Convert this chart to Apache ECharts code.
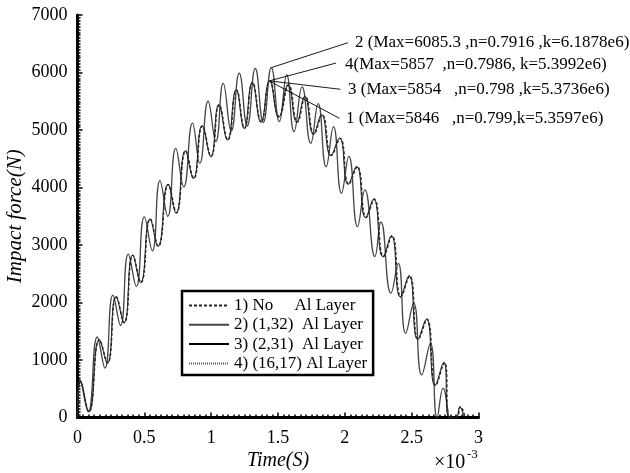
<!DOCTYPE html>
<html>
<head>
<meta charset="utf-8">
<script src="https://cdn.jsdelivr.net/npm/echarts@6/dist/echarts.min.js"></script>
<style>
html, body { margin: 0; padding: 0; background: #fff; }
#myChart { width: 630px; height: 473px; }
</style>
</head>
<body>
<div id="myChart"></div>
<script>
// legend names (spaces line up the "Al Layer" column like the original)
var seriesNames = ['1) No     Al Layer', '2) (1,32)  Al Layer', '3) (2,31)  Al Layer', '4) (16,17) Al Layer'];

// [time (x10^-3 s), force (N)] at the peaks and troughs
var curve1 = [[0,0],[0.022,630],[0.085,100],[0.165,1350],[0.225,950],[0.29,2100],[0.35,1650],[0.415,2820],[0.475,2350],[0.545,3450],[0.605,2980],[0.68,4050],[0.74,3560],[0.81,4635],[0.87,4160],[0.935,5070],[1.0,4540],[1.06,5435],[1.125,4830],[1.19,5696],[1.25,5030],[1.31,5823],[1.375,5140],[1.44,5846],[1.51,5230],[1.58,5783],[1.645,5140],[1.705,5580],[1.77,4930],[1.83,5261],[1.9,4560],[1.965,4855],[2.03,4060],[2.093,4362],[2.16,3480],[2.22,3795],[2.29,2800],[2.353,3157],[2.42,2100],[2.485,2461],[2.55,1360],[2.615,1708],[2.68,560],[2.745,953],[2.785,0],[2.835,0],[2.865,188],[2.9,0]];
var curve2 = [[0,0],[0.02,640],[0.08,100],[0.148,1400],[0.205,860],[0.265,2130],[0.322,1600],[0.38,2840],[0.44,2280],[0.5,3490],[0.56,2900],[0.617,4120],[0.675,3500],[0.735,4680],[0.795,4010],[0.86,5120],[0.915,4420],[0.977,5500],[1.035,4800],[1.09,5810],[1.15,4980],[1.21,5990],[1.27,5070],[1.33,6070],[1.39,5130],[1.45,6085],[1.51,5145],[1.565,5960],[1.62,4970],[1.68,5750],[1.745,4770],[1.8,5460],[1.86,4360],[1.915,5060],[1.975,3900],[2.03,4540],[2.095,3320],[2.15,3960],[2.225,2800],[2.27,3400],[2.345,2160],[2.4,2680],[2.455,1464],[2.515,1990],[2.575,740],[2.64,1290],[2.69,0],[2.735,510],[2.775,0]];
var curve3 = [[0,0],[0.022,635],[0.085,100],[0.163,1355],[0.223,945],[0.288,2105],[0.348,1645],[0.412,2825],[0.472,2345],[0.542,3455],[0.602,2975],[0.677,4055],[0.737,3555],[0.807,4640],[0.867,4155],[0.932,5075],[0.997,4535],[1.057,5440],[1.122,4825],[1.187,5700],[1.247,5025],[1.307,5828],[1.372,5135],[1.437,5854],[1.505,5225],[1.575,5788],[1.64,5135],[1.7,5585],[1.765,4925],[1.825,5266],[1.895,4555],[1.96,4860],[2.025,4055],[2.088,4367],[2.155,3475],[2.215,3800],[2.285,2795],[2.348,3162],[2.415,2095],[2.48,2466],[2.545,1355],[2.61,1713],[2.675,555],[2.74,958],[2.78,0],[2.83,0],[2.86,185],[2.89,0]];
var curve4 = [[0,0],[0.022,638],[0.085,100],[0.164,1352],[0.224,948],[0.289,2102],[0.349,1648],[0.414,2822],[0.474,2348],[0.544,3452],[0.604,2978],[0.679,4052],[0.739,3558],[0.809,4638],[0.869,4158],[0.934,5072],[0.999,4538],[1.059,5438],[1.124,4828],[1.189,5698],[1.249,5028],[1.309,5826],[1.374,5138],[1.439,5857],[1.508,5228],[1.578,5786],[1.643,5138],[1.703,5583],[1.768,4928],[1.828,5264],[1.898,4558],[1.963,4858],[2.028,4058],[2.091,4365],[2.158,3478],[2.218,3798],[2.288,2798],[2.351,3160],[2.418,2098],[2.483,2464],[2.548,1358],[2.613,1711],[2.678,558],[2.743,956],[2.783,0],[2.833,0],[2.863,187],[2.898,0]];

// maxima the notes point at, and the note texts
var maxPoints = [[1.44,5846],[1.45,6085],[1.437,5854],[1.439,5857]];
var noteTexts = [
  '1 (Max=5846   ,n=0.799,k=5.3597e6)',
  '2 (Max=6085.3 ,n=0.7916 ,k=6.1878e6)',
  '3 (Max=5854   ,n=0.798 ,k=5.3736e6)',
  '4(Max=5857  ,n=0.7986, k=5.3992e6)'
];

var serif = '"Liberation Serif", "Times New Roman", serif';

let myChart = echarts.init(document.getElementById('myChart'));

// where each leader line ends (data coords) and where its text sits (px)
var noteEnds = [[1.96,5203],[2.023,6518],[1.967,5708],[1.935,6165]];
var notePos = [[346,110],[355,34],[348,81],[345,56]];

function lineSeries(i, data, color, width, type) {
  return {
    name: seriesNames[i],
    type: 'line',
    data: data,
    smooth: 0.5,
    symbol: 'none',
    clip: true,
    lineStyle: { color: color, width: width, type: type },
    itemStyle: { color: color },
    markLine: {
      silent: true,
      symbol: 'none',
      label: { show: false },
      lineStyle: { color: '#000', width: 0.9, type: 'solid' },
      data: [[{ coord: maxPoints[i] }, { coord: noteEnds[i] }]]
    }
  };
}

var graphic = noteTexts.map(function (t, i) {
  return {
    type: 'text', left: notePos[i][0], top: notePos[i][1],
    style: { text: t, font: '17px ' + serif, fill: '#000' }
  };
});
graphic.push({ type: 'text', left: 434, top: 453, style: { text: '\u00d710', font: '20px ' + serif, fill: '#000' } });
graphic.push({ type: 'text', left: 467, top: 448, style: { text: '-3', font: '13px ' + serif, fill: '#000' } });

myChart.setOption({
  animation: false,
  backgroundColor: '#fff',
  grid: { left: 77.5, right: 151.5, top: 15, bottom: 55.5, containLabel: false, outerBoundsMode: 'none' },
  legend: {
    orient: 'vertical',
    left: 182, top: 291,
    padding: [6, 6, 3, 6],
    itemWidth: 40, itemHeight: 14, itemGap: 2.3,
    borderColor: '#000', borderWidth: 2.5,
    backgroundColor: '#fff',
    itemStyle: { opacity: 0 },
    textStyle: { fontFamily: serif, fontSize: 17, lineHeight: 17, color: '#000' },
    data: seriesNames
  },
  xAxis: {
    type: 'value', min: 0, max: 3, interval: 0.5,
    name: 'Time(S)', nameLocation: 'middle', nameGap: 33, nameMoveOverlap: false,
    nameTextStyle: { fontFamily: serif, fontSize: 20, fontStyle: 'italic', color: '#000' },
    axisLine: { lineStyle: { color: '#000', width: 3 } },
    axisTick: { inside: true, length: 5, lineStyle: { color: '#000', width: 1.5 } },
    minorTick: { show: true, splitNumber: 12, length: 3, lineStyle: { color: '#000', width: 1.5 } },
    splitLine: { show: false },
    axisLabel: { fontFamily: serif, fontSize: 18, color: '#000', margin: 12 }
  },
  yAxis: {
    type: 'value', min: 0, max: 7000, interval: 1000,
    name: 'Impact force(N)', nameLocation: 'middle', nameGap: 52, nameMoveOverlap: false,
    nameTextStyle: { fontFamily: serif, fontSize: 21, fontStyle: 'italic', color: '#000' },
    axisLine: { show: true, lineStyle: { color: '#000', width: 3 } },
    axisTick: { show: true, inside: true, length: 5, lineStyle: { color: '#000', width: 1.5 } },
    minorTick: { show: true, splitNumber: 20, length: 3, lineStyle: { color: '#000', width: 1.5 } },
    splitLine: { show: false },
    axisLabel: { fontFamily: serif, fontSize: 18, color: '#000', margin: 10, formatter: function (v) { return String(v); } }
  },
  series: [
    lineSeries(0, curve1, '#222', 1.4, [3, 2]),
    lineSeries(1, curve2, '#444', 1.3, 'solid'),
    lineSeries(2, curve3, '#000', 0.9, 'solid'),
    lineSeries(3, curve4, '#555', 0.8, [1, 1])
  ],
  graphic: graphic
});
</script>
</body>
</html>
